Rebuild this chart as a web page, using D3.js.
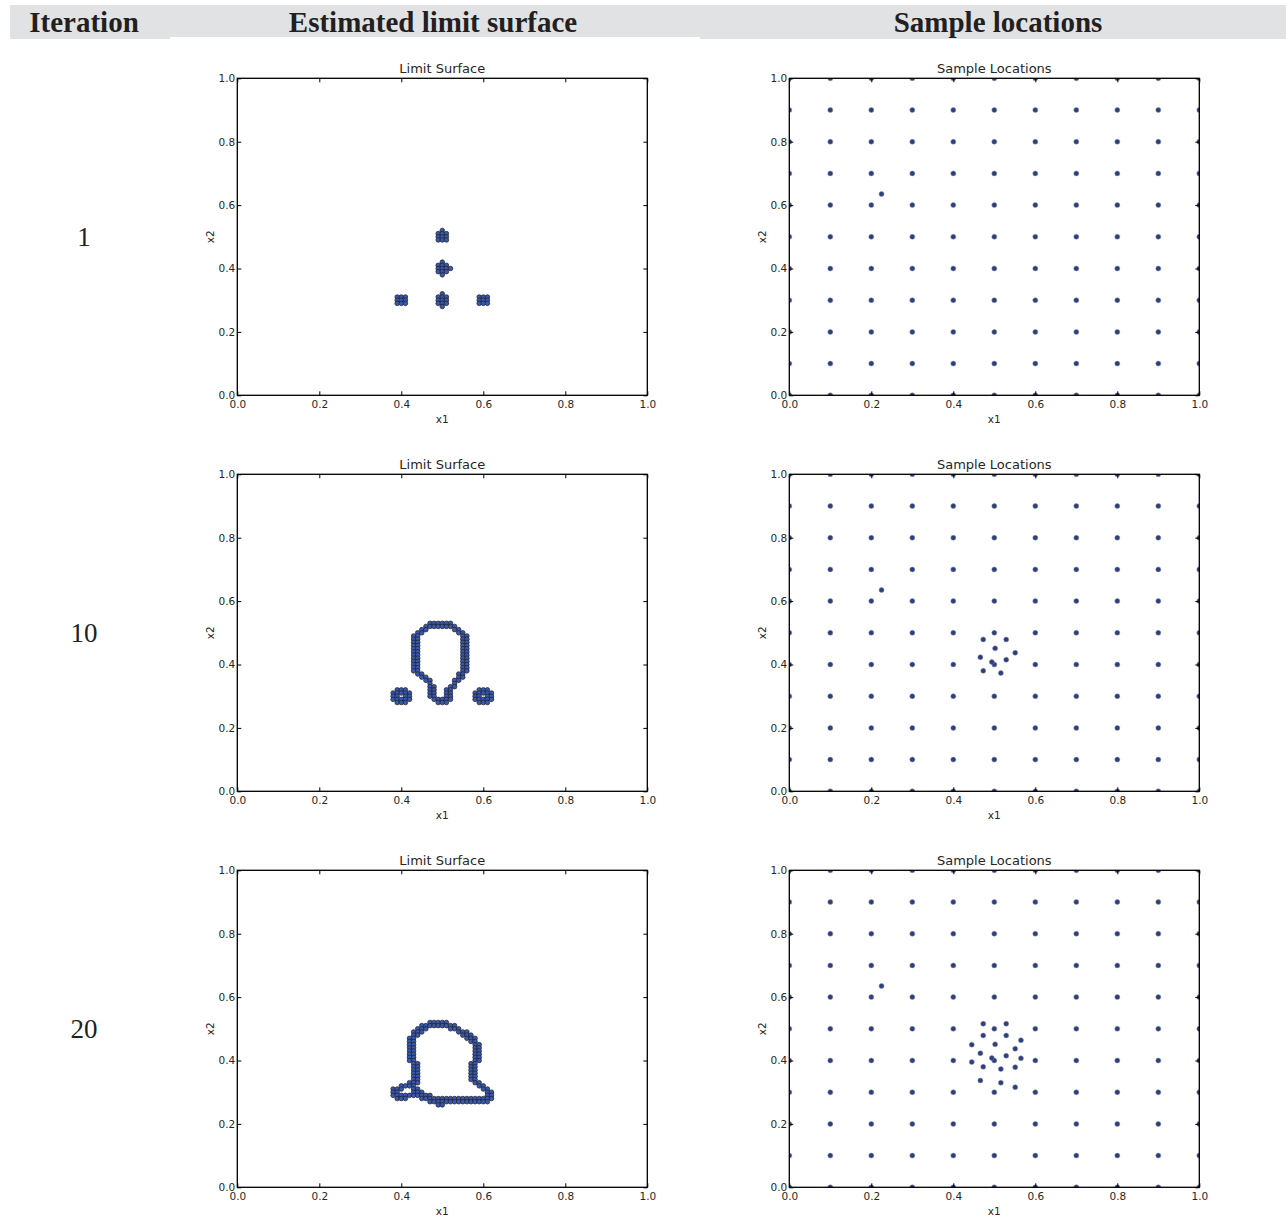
<!DOCTYPE html>
<html>
<head>
<meta charset="utf-8">
<script src="https://cdn.jsdelivr.net/npm/d3@7"></script>
<style>
  html, body { margin: 0; padding: 0; background: #ffffff; }
  svg { display: block; }
</style>
</head>
<body>
<script>
// ---------------- DATA ----------------
const headerLabels = ["Iteration", "Estimated limit surface", "Sample locations"];
const iterations = [1, 10, 20];
const axisTicks = [0.0, 0.2, 0.4, 0.6, 0.8, 1.0];
const limitTitle = "Limit Surface";
const sampleTitle = "Sample Locations";
const xLabel = "x1";
const yLabel = "x2";

// initial regular sample grid coordinates (both axes)
const gridCoords = [0.0, 0.1, 0.2, 0.3, 0.4, 0.5, 0.6, 0.7, 0.8, 0.9, 1.0];

// adaptively added samples (cumulative over iterations)
const samplesAddedBy1 = [[0.225, 0.635]];
const samplesAddedBy10 = [
  [0.473, 0.479], [0.529, 0.479], [0.502, 0.451], [0.551, 0.437], [0.466, 0.423],
  [0.529, 0.415], [0.494, 0.408], [0.473, 0.380], [0.516, 0.373]
];
const samplesAddedBy20 = [
  [0.473, 0.516], [0.529, 0.516], [0.565, 0.464], [0.445, 0.450], [0.565, 0.407],
  [0.445, 0.395], [0.551, 0.379], [0.466, 0.337], [0.516, 0.330], [0.551, 0.316]
];

// limit-surface cells, as row runs [y, xStart, xEnd] in hundredths
const limitRuns1 = [
  [52,50,50],[51,49,51],[50,49,51],[49,49,51],
  [42,50,50],[41,49,51],[40,49,52],[39,49,51],[38,50,50],
  [32,50,50],[31,49,51],[30,49,51],[29,49,51],[28,50,50],
  [31,39,41],[30,39,41],[29,39,41],
  [31,59,61],[30,59,61],[29,59,61]
];
const limitRuns10 = [
  [53,47,52],[52,46,53],[51,45,46],[51,53,54],[50,44,45],[50,54,55],[49,43,44],[49,55,56],
  [48,43,44],[48,55,56],[47,43,44],[47,55,56],[46,43,44],[46,55,56],[45,43,44],[45,55,56],
  [44,43,44],[44,55,56],[43,43,44],[43,55,56],[42,43,44],[42,55,56],[41,43,44],[41,55,56],
  [40,43,44],[40,55,56],[39,43,44],[39,55,56],[38,43,44],[38,55,56],
  [37,44,45],[37,54,55],[36,45,46],[36,54,55],[35,46,47],[35,53,54],[34,47,47],[34,53,53],
  [33,47,48],[33,52,53],[32,47,48],[32,51,52],[31,47,48],[31,51,52],[30,47,48],[30,51,52],
  [29,48,52],[28,49,51],
  [32,39,41],[31,38,42],[30,38,39],[30,41,42],[29,38,42],[28,39,41],
  [32,59,61],[31,58,62],[30,58,59],[30,61,62],[29,58,62],[28,59,61]
];
const limitRuns20 = [
  [52,47,51],[51,45,53],[50,44,46],[50,52,54],[49,43,45],[49,54,56],[48,43,44],[48,55,57],
  [47,42,43],[47,56,58],[46,42,43],[46,57,58],[45,42,43],[45,58,59],[44,42,43],[44,58,59],
  [43,42,43],[43,58,59],[42,42,43],[42,58,59],[41,42,43],[41,58,59],[40,42,43],[40,58,59],
  [39,43,44],[39,57,58],[38,43,44],[38,57,58],[37,43,44],[37,57,58],[36,43,44],[36,57,58],
  [35,43,44],[35,57,58],[34,43,44],[34,57,58],[33,42,44],[33,58,59],
  [32,40,43],[32,59,60],[31,38,40],[31,43,44],[31,60,61],[30,38,39],[30,43,45],[30,61,62],
  [29,38,40],[29,41,47],[29,61,62],[28,39,41],[28,45,62],[27,47,61],[26,49,50]
];

// ---------------- BUILD ----------------
const W = 1286, H = 1222;
const svg = d3.select("body").append("svg").attr("width", W).attr("height", H);
svg.append("rect").attr("width", W).attr("height", H).attr("fill", "#ffffff");

// header band
const hdr = svg.append("g");
hdr.append("rect").attr("x", 10).attr("y", 5).attr("width", 160).attr("height", 34).attr("fill", "#e1e2e4");
hdr.append("rect").attr("x", 170).attr("y", 5).attr("width", 530).attr("height", 32).attr("fill", "#e1e2e4");
hdr.append("rect").attr("x", 700).attr("y", 5).attr("width", 586).attr("height", 34).attr("fill", "#e1e2e4");
const hdrX = [84, 433, 998];
hdr.selectAll("text").data(headerLabels).join("text")
  .attr("x", (d, i) => hdrX[i]).attr("y", 32)
  .attr("text-anchor", "middle")
  .attr("font-family", "'Liberation Serif', 'Times New Roman', serif")
  .attr("font-weight", "bold").attr("font-size", 29).attr("fill", "#231f20")
  .text(d => d);

const fontSans = "'DejaVu Sans', sans-serif";
const PW = 410, PH = 317;
const rowTop = [78.3, 474.3, 870.3];
const leftX = 237.3, rightX = 789.3;

function makeAxes(g, px, py, title, clipId) {
  const x = d3.scaleLinear().domain([0, 1]).range([px, px + PW]);
  const y = d3.scaleLinear().domain([0, 1]).range([py + PH, py]);
  const fmt = d3.format(".1f");
  g.append("clipPath").attr("id", clipId).append("rect")
    .attr("x", px).attr("y", py).attr("width", PW).attr("height", PH);
  const marks = g.append("g").attr("clip-path", `url(#${clipId})`);

  const ax = g.append("g");
  const styleAxis = sel => {
    sel.select(".domain").remove();
    sel.selectAll(".tick line").attr("stroke", "#000").attr("stroke-width", 1);
    sel.selectAll(".tick text").attr("font-family", fontSans).attr("font-size", 10.5).attr("fill", "#262626");
  };
  ax.append("g").attr("transform", `translate(0,${py + PH})`)
    .call(d3.axisBottom(x).tickValues(axisTicks).tickFormat(fmt).tickSizeInner(-4).tickSizeOuter(0).tickPadding(5))
    .call(styleAxis);
  ax.append("g").attr("transform", `translate(0,${py})`)
    .call(d3.axisTop(x).tickValues(axisTicks).tickFormat("").tickSizeInner(-4).tickSizeOuter(0))
    .call(styleAxis);
  ax.append("g").attr("transform", `translate(${px},0)`)
    .call(d3.axisLeft(y).tickValues(axisTicks).tickFormat(fmt).tickSizeInner(-4).tickSizeOuter(0).tickPadding(2))
    .call(styleAxis);
  ax.append("g").attr("transform", `translate(${px + PW},0)`)
    .call(d3.axisRight(y).tickValues(axisTicks).tickFormat("").tickSizeInner(-4).tickSizeOuter(0))
    .call(styleAxis);

  g.append("rect").attr("x", px).attr("y", py).attr("width", PW).attr("height", PH)
    .attr("fill", "none").attr("stroke", "#000").attr("stroke-width", 1);

  g.append("text").attr("x", px + PW / 2).attr("y", py - 5).attr("text-anchor", "middle")
    .attr("font-family", fontSans).attr("font-size", 13).attr("fill", "#262626").text(title);
  g.append("text").attr("x", px + PW / 2).attr("y", py + PH + 28).attr("text-anchor", "middle")
    .attr("font-family", fontSans).attr("font-size", 10.5).attr("fill", "#262626").text(xLabel);
  g.append("text").attr("transform", `translate(${px - 27},${py + PH / 2}) rotate(-90)`)
    .attr("text-anchor", "middle").attr("dy", "0.35em")
    .attr("font-family", fontSans).attr("font-size", 10.5).attr("fill", "#262626").text(yLabel);
  return { x, y, marks };
}

const limitSets = [limitRuns1, limitRuns10, limitRuns20];
const baseGrid = gridCoords.flatMap(gx => gridCoords.map(gy => [gx, gy]));
const sampleSets = [
  baseGrid.concat(samplesAddedBy1),
  baseGrid.concat(samplesAddedBy1, samplesAddedBy10),
  baseGrid.concat(samplesAddedBy1, samplesAddedBy10, samplesAddedBy20)
];

iterations.forEach((it, r) => {
  const py = rowTop[r];
  // iteration label
  svg.append("text").attr("x", 84).attr("y", py + PH / 2 + 9)
    .attr("text-anchor", "middle")
    .attr("font-family", "'Liberation Serif', 'Times New Roman', serif")
    .attr("font-size", 27).attr("fill", "#231f20").text(it);

  // limit surface panel
  const gl = svg.append("g");
  const L = makeAxes(gl, leftX, py, limitTitle, "clipL" + r);
  const cells = limitSets[r].flatMap(([yy, x0, x1]) =>
    d3.range(x0, x1 + 1).map(xx => [xx / 100, yy / 100]));
  L.marks.selectAll("circle").data(cells).join("circle")
    .attr("cx", d => L.x(d[0])).attr("cy", d => L.y(d[1])).attr("r", 2.3)
    .attr("fill", "#3a59aa").attr("stroke", "#1b1d2e").attr("stroke-width", 0.7);

  // sample locations panel
  const gr = svg.append("g");
  const S = makeAxes(gr, rightX, py, sampleTitle, "clipS" + r);
  S.marks.selectAll("circle").data(sampleSets[r]).join("circle")
    .attr("cx", d => S.x(d[0])).attr("cy", d => S.y(d[1])).attr("r", 2.5)
    .attr("fill", "#2d3e7e").attr("stroke", "#8a8fa0").attr("stroke-width", 0.5);
  // redraw frame above clipped marks
  gr.append("rect").attr("x", rightX).attr("y", py).attr("width", PW).attr("height", PH)
    .attr("fill", "none").attr("stroke", "#000").attr("stroke-width", 1);
  gl.append("rect").attr("x", leftX).attr("y", py).attr("width", PW).attr("height", PH)
    .attr("fill", "none").attr("stroke", "#000").attr("stroke-width", 1);
});
</script>
</body>
</html>
